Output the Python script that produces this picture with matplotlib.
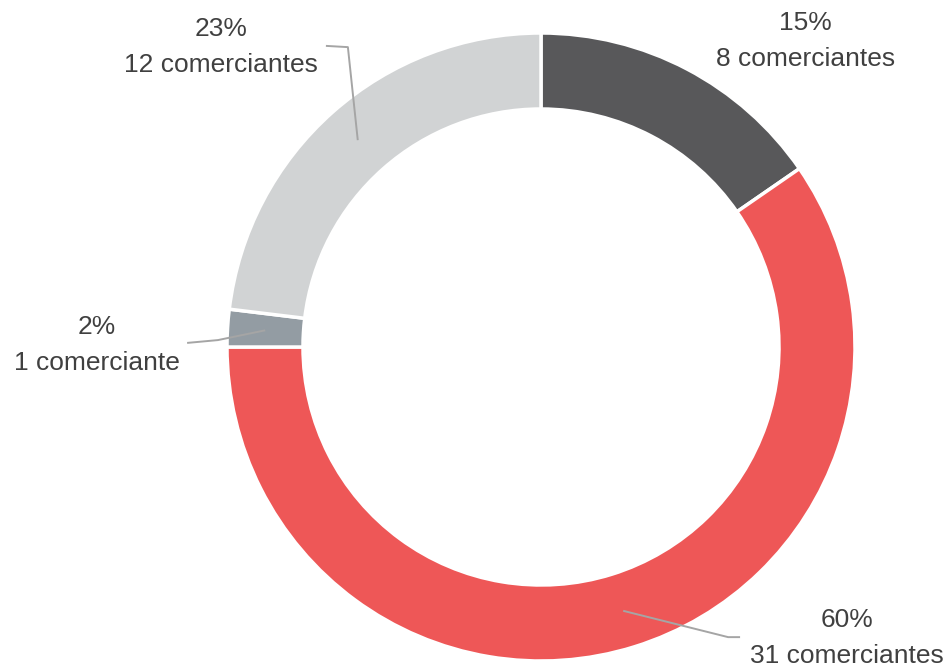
import numpy as np
import matplotlib
matplotlib.use("Agg")
import matplotlib.pyplot as plt

plt.rcParams['font.family'] = ['Liberation Sans Narrow', 'Liberation Sans', 'DejaVu Sans']

# data
counts = [8, 31, 1, 12]
percents = ["15%", "60%", "2%", "23%"]
labels = ["8 comerciantes", "31 comerciantes", "1 comerciante", "12 comerciantes"]
colors = ["#58585a", "#ee5757", "#939ca3", "#d1d3d4"]

# label placement (data coords, radius 1 = outer ring)
text_pos = [(0.841, 0.975), (0.975, -0.927), (-1.414, 0.006), (-1.019, 0.955)]
elbows = [None, [(0.596, -0.924), (0.634, -0.924)],
          [(-1.029, 0.022), (-1.127, 0.013)],
          [(-0.615, 0.955), (-0.685, 0.959)]]

fig = plt.figure(figsize=(9.46, 6.72), dpi=100)
ax = fig.add_axes([0, 0, 1, 1])

wedges, _ = ax.pie(counts, colors=colors, startangle=90, counterclock=False,
                   radius=1.0, wedgeprops=dict(width=0.242, edgecolor="white", linewidth=2.5))

for w, pct, lab, pos, elb in zip(wedges, percents, labels, text_pos, elbows):
    ang = np.deg2rad((w.theta1 + w.theta2) / 2)
    if elb is not None:
        xs = [0.88 * np.cos(ang)] + [p[0] for p in elb]
        ys = [0.88 * np.sin(ang)] + [p[1] for p in elb]
        ax.plot(xs, ys, color="#a5a5a5", lw=1.4, solid_capstyle="butt")
    ax.text(pos[0], pos[1], pct + "\n" + lab, ha="center", va="center",
            fontsize=19, color="#404040", linespacing=1.65)

ax.set_xlim(-541 / 314, (946 - 541) / 314)
ax.set_ylim(-(672 - 347) / 314, 347 / 314)
ax.set_aspect("equal")
ax.axis("off")

fig.savefig("out.png", dpi=100)
